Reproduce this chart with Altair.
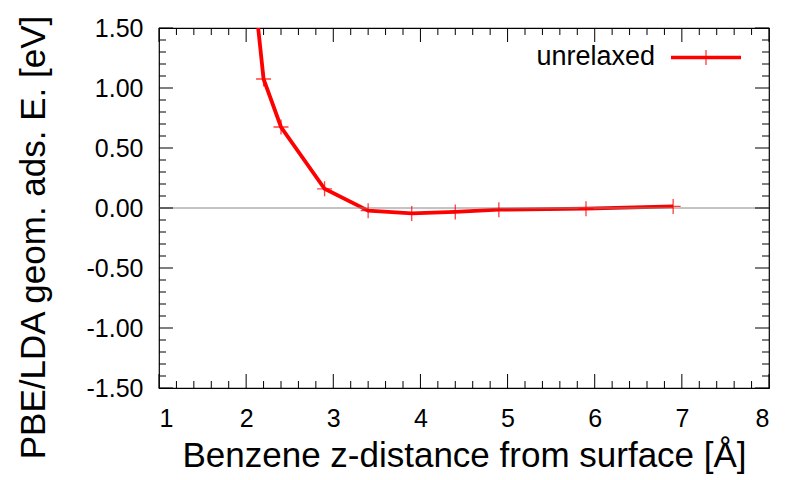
import altair as alt
import pandas as pd

# ---- data ----
z_dist = [2.0, 2.2, 2.4, 2.9, 3.4, 3.9, 4.4, 4.9, 5.9, 6.9]
energy = [2.45, 1.075, 0.675, 0.16, -0.022, -0.045, -0.033, -0.014, -0.006, 0.013]
series_name = "unrelaxed"

x_major = [1, 2, 3, 4, 5, 6, 7, 8]
y_major = [-1.5, -1.0, -0.5, 0.0, 0.5, 1.0, 1.5]
x_minor = [round(1 + 0.2 * i, 1) for i in range(36) if (i % 5) != 0]
y_minor = [round(-1.5 + 0.1 * i, 1) for i in range(31) if (i % 5) != 0]

x_title = "Benzene z-distance from surface [Å]"
y_title = "PBE/LDA geom. ads. E. [eV]"

W, H = 610, 360
FONT = "Liberation Sans"
RED = "#ff0000"
MAJ, MIN = 14, 7

df = pd.DataFrame({"z": z_dist, "E": energy})
df_pts = df[df["E"] <= 1.5]

xs = alt.Scale(domain=[1, 8], nice=False, zero=False)
ys = alt.Scale(domain=[-1.5, 1.5], nice=False, zero=False)

x_axis = alt.Axis(
    values=x_major,
    format="d",
    ticks=False,
    domain=False,
    grid=False,
    labelFont=FONT,
    labelFontSize=25,
    labelColor="black",
    labelPadding=18,
    titleFont=FONT,
    titleFontSize=35,
    titleFontWeight="normal",
    titleColor="black",
    titleBaseline="alphabetic",
    titleY=78,
)
y_axis = alt.Axis(
    values=y_major,
    format=".2f",
    labelExpr="replace(datum.label, '\u2212', '-')",
    ticks=False,
    domain=False,
    grid=False,
    labelFont=FONT,
    labelFontSize=25,
    labelColor="black",
    labelPadding=16,
    titleFont=FONT,
    titleFontSize=35,
    titleFontWeight="normal",
    titleColor="black",
    titleAngle=270,
    titleBaseline="alphabetic",
    titleX=-115,
    titleY=209,
)

def X(field):
    return alt.X(field, scale=xs, axis=x_axis, title=x_title)

def Y(field):
    return alt.Y(field, scale=ys, axis=y_axis, title=y_title)

zero_line = alt.Chart(pd.DataFrame({"y": [0.0]})).mark_rule(
    color="#888888", strokeWidth=1
).encode(y=Y("y:Q"))

line = alt.Chart(df).mark_line(color=RED, strokeWidth=3.8, clip=True).encode(
    x=X("z:Q"), y=Y("E:Q")
)

CROSS = "M-1,0L1,0M0,-1L0,1"
points = alt.Chart(df_pts).mark_point(
    shape=CROSS, size=225, filled=False, stroke=RED, strokeWidth=1.3, opacity=0.75, clip=True
).encode(x=X("z:Q"), y=Y("E:Q"))

# inward ticks (gnuplot style)
def xticks(vals, length):
    d = alt.Chart(pd.DataFrame({"t": vals}))
    bot = d.mark_rule(color="black", strokeWidth=1).encode(
        x=X("t:Q"), y=alt.value(H), y2=alt.value(H - length)
    )
    top = d.mark_rule(color="black", strokeWidth=1).encode(
        x=X("t:Q"), y=alt.value(0), y2=alt.value(length)
    )
    return [bot, top]

def yticks(vals, length):
    d = alt.Chart(pd.DataFrame({"t": vals}))
    left = d.mark_rule(color="black", strokeWidth=1).encode(
        y=Y("t:Q"), x=alt.value(0), x2=alt.value(length)
    )
    right = d.mark_rule(color="black", strokeWidth=1).encode(
        y=Y("t:Q"), x=alt.value(W), x2=alt.value(W - length)
    )
    return [left, right]

tick_layers = xticks(x_major, MAJ) + xticks(x_minor, MIN) + yticks(y_major, MAJ) + yticks(y_minor, MIN)

# legend (key at top right)
leg_df = pd.DataFrame({"label": [series_name]})
leg_text = alt.Chart(leg_df).mark_text(
    align="right", baseline="middle", font=FONT, fontSize=27, color="black"
).encode(text="label:N", x=alt.value(496), y=alt.value(29))
leg_line = alt.Chart(leg_df).mark_rule(color=RED, strokeWidth=3.5).encode(
    x=alt.value(512), x2=alt.value(582), y=alt.value(29.5)
)
leg_cross = alt.Chart(leg_df).mark_point(
    shape=CROSS, size=225, filled=False, stroke=RED, strokeWidth=1.3, opacity=0.75
).encode(x=alt.value(547), y=alt.value(29.5))

chart = (
    alt.layer(line, zero_line, *tick_layers, points, leg_text, leg_line, leg_cross)
    .properties(
        width=W,
        height=H,
        autosize=alt.AutoSizeParams(type="none"),
        padding={"left": 151, "top": 20, "right": 15, "bottom": 92},
        background="white",
    )
    .configure_view(stroke="black", strokeWidth=1.2)
)

chart.save("out.html", embed_options={"renderer": "svg", "actions": False})
